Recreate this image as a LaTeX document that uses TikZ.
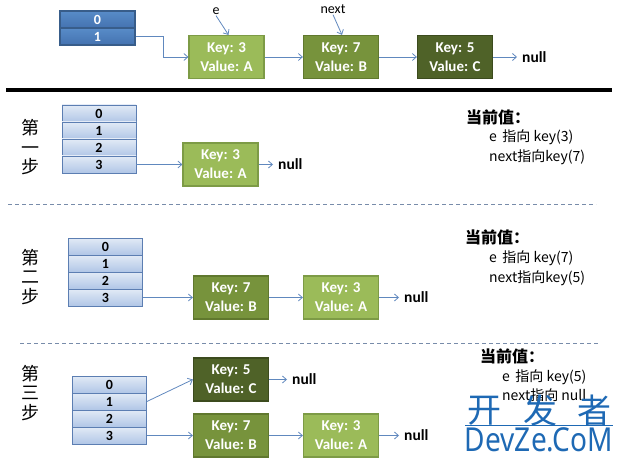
\documentclass[tikz,border=0pt]{standalone}
\usepackage{fontspec}
\setmainfont{Carlito}
\newfontfamily\cjk{Noto Sans CJK SC}
\newfontfamily\wmfont{Noto Sans}
\usetikzlibrary{arrows.meta}
\definecolor{dbTop}{RGB}{88,140,200}
\definecolor{dbBot}{RGB}{68,114,176}
\definecolor{dbBorder}{RGB}{56,93,138}
\definecolor{lbTop}{RGB}{226,234,246}
\definecolor{lbBot}{RGB}{176,198,230}
\definecolor{lbBorder}{RGB}{92,126,178}
\definecolor{lgFill}{RGB}{155,187,89}
\definecolor{lgBorder}{RGB}{125,155,70}
\definecolor{mgFill}{RGB}{119,147,60}
\definecolor{mgBorder}{RGB}{96,120,46}
\definecolor{dgFill}{RGB}{79,98,40}
\definecolor{dgBorder}{RGB}{60,75,30}
\definecolor{connCol}{RGB}{96,136,190}
\definecolor{dashCol}{RGB}{120,140,170}
\definecolor{wmCol}{RGB}{30,105,180}
\begin{document}
\begin{tikzpicture}[x=1pt,y=-1pt,
  darkcell/.style={draw=dbBorder, top color=dbTop, bottom color=dbBot, line width=1.2pt, minimum width=75pt, minimum height=17pt, inner sep=0pt, text=white, font=\bfseries\fontsize{14}{15}\selectfont},
  lightcell/.style={draw=lbBorder, top color=lbTop, bottom color=lbBot, line width=0.8pt, minimum width=74pt, minimum height=17pt, inner sep=0pt, text=black, font=\bfseries\fontsize{14}{15}\selectfont},
  kvbox/.style={minimum width=75pt, minimum height=43pt, inner sep=0pt, text=white, align=center, line width=1.2pt, font=\bfseries\fontsize{15}{19}\selectfont},
  lgbox/.style={kvbox, fill=lgFill, draw=lgBorder},
  mgbox/.style={kvbox, fill=mgFill, draw=mgBorder},
  dgbox/.style={kvbox, fill=dgFill, draw=dgBorder},
  nulltxt/.style={anchor=west, inner xsep=5pt, inner ysep=0pt, font=\bfseries\fontsize{15.5}{18}\selectfont},
  conn/.style={draw=connCol, line width=0.8pt, -{Straight Barb[length=4pt,width=7pt]}},
  ptrlbl/.style={font=\fontsize{14}{16}\selectfont, inner sep=1pt},
  steplbl/.style={font=\cjk\fontsize{18}{19.5}\selectfont, align=center, inner sep=0pt},
  curhead/.style={anchor=west, inner sep=0pt, font=\cjk\bfseries\fontsize{16}{18}\selectfont},
  curline/.style={anchor=west, inner sep=0pt, font=\cjk\fontsize{14}{16}\selectfont},
  sepdash/.style={draw=dashCol, line width=0.7pt, dash pattern=on 4pt off 3pt},
  wmchar/.style={text=wmCol, inner sep=0pt, font=\cjk\fontsize{34}{36}\selectfont},
]
\useasboundingbox (0,0) rectangle (623,462);

% ---------------- top section ----------------
\node[darkcell] (t0) at (97.5,19.5) {0};
\node[darkcell] (t1) at (97.5,36.5) {1};
\node[lgbox] (tA) at (226.5,57) {Key: 3\\Value: A};
\node[mgbox] (tB) at (341,57) {Key: 7\\Value: B};
\node[dgbox] (tC) at (455,57) {Key: 5\\Value: C};
\node[nulltxt] (tn) at (517,57) {null};
\node[ptrlbl] (te) at (216,11) {e};
\node[ptrlbl] (tnext) at (333,9) {next};
\draw[conn] (t1.east) -- ++(28,0) |- (tA.west);
\draw[conn] (tA.east) -- (tB.west);
\draw[conn] (tB.east) -- (tC.west);
\draw[conn] (tC.east) -- (tn.west);
\draw[conn] (te.south) -- ([xshift=2pt]tA.north);
\draw[conn] (tnext.south) -- ([xshift=1pt]tB.north);
\coordinate (hl1) at (6,90);
\coordinate (hl2) at (612,90);
\draw[line width=3.5pt, black] (hl1) -- (hl2);

% ---------------- step 1 ----------------
\node[steplbl] (s1lbl) at (30,147.5) {第\\一\\步};
\node[lightcell] (s1c0) at (99,113.5) {0};
\node[lightcell] (s1c1) at (99,130.5) {1};
\node[lightcell] (s1c2) at (99,147.5) {2};
\node[lightcell] (s1c3) at (99,164.5) {3};
\node[lgbox] (s1A) at (220.5,164.5) {Key: 3\\Value: A};
\node[nulltxt] (s1n) at (273,164.5) {null};
\draw[conn] (s1c3.east) -- (s1A.west);
\draw[conn] (s1A.east) -- (s1n.west);
\node[curhead] (s1h) at (466,117) {当前值：};
\node[curline] (s1e) at (489,137) {e\, 指向 key(3)};
\node[curline] (s1x) at (489,157) {next指向key(7)};
\coordinate (d1a) at (8,204);
\coordinate (d1b) at (596,204);
\draw[sepdash] (d1a) -- (d1b);

% ---------------- step 2 ----------------
\node[steplbl] (s2lbl) at (30,277) {第\\二\\步};
\node[lightcell] (s2c0) at (105.5,246.5) {0};
\node[lightcell] (s2c1) at (105.5,263.5) {1};
\node[lightcell] (s2c2) at (105.5,280.5) {2};
\node[lightcell] (s2c3) at (105.5,297.5) {3};
\node[mgbox] (s2B) at (231,297.5) {Key: 7\\Value: B};
\node[lgbox] (s2A) at (341,297.5) {Key: 3\\Value: A};
\node[nulltxt] (s2n) at (399,297.5) {null};
\draw[conn] (s2c3.east) -- (s2B.west);
\draw[conn] (s2B.east) -- (s2A.west);
\draw[conn] (s2A.east) -- (s2n.west);
\node[curhead] (s2h) at (465,237) {当前值：};
\node[curline] (s2e) at (489,258) {e\, 指向 key(7)};
\node[curline] (s2x) at (489,278) {next指向key(5)};
\coordinate (d2a) at (20,343);
\coordinate (d2b) at (599,343);
\draw[sepdash] (d2a) -- (d2b);

% ---------------- step 3 ----------------
\node[steplbl] (s3lbl) at (30,393) {第\\三\\步};
\node[lightcell] (s3c0) at (109.5,384.5) {0};
\node[lightcell] (s3c1) at (109.5,401.5) {1};
\node[lightcell] (s3c2) at (109.5,418.5) {2};
\node[lightcell] (s3c3) at (109.5,435.5) {3};
\node[dgbox] (s3C) at (231,379.5) {Key: 5\\Value: C};
\node[mgbox] (s3B) at (231,435.5) {Key: 7\\Value: B};
\node[lgbox] (s3A) at (341,435.5) {Key: 3\\Value: A};
\node[nulltxt] (s3n1) at (287,379.5) {null};
\node[nulltxt] (s3n2) at (399,435.5) {null};
\draw[conn] (s3c1.east) -- (s3C.west);
\draw[conn] (s3C.east) -- (s3n1.west);
\draw[conn] (s3c3.east) -- (s3B.west);
\draw[conn] (s3B.east) -- (s3A.west);
\draw[conn] (s3A.east) -- (s3n2.west);
\node[curhead] (s3h) at (480,356) {当前值：};
\node[curline] (s3e) at (502,377) {e\, 指向 key(5)};
\node[curline] (s3x) at (502,395) {next指向 null};

% ---------------- watermark ----------------
\node[wmchar] (w1) at (484,411) {开};
\node[wmchar] (w2) at (540,411) {发};
\node[wmchar] (w3) at (594,411) {者};
\coordinate (wl1) at (465,425);
\coordinate (wl2) at (613,425);
\draw[wmCol, line width=0.8pt] (wl1) -- (wl2);
\node[text=wmCol, inner sep=0pt, font=\wmfont\fontsize{33}{36}\selectfont, xscale=0.85] (w4) at (539,440) {DevZe.CoM};
\end{tikzpicture}
\end{document}
